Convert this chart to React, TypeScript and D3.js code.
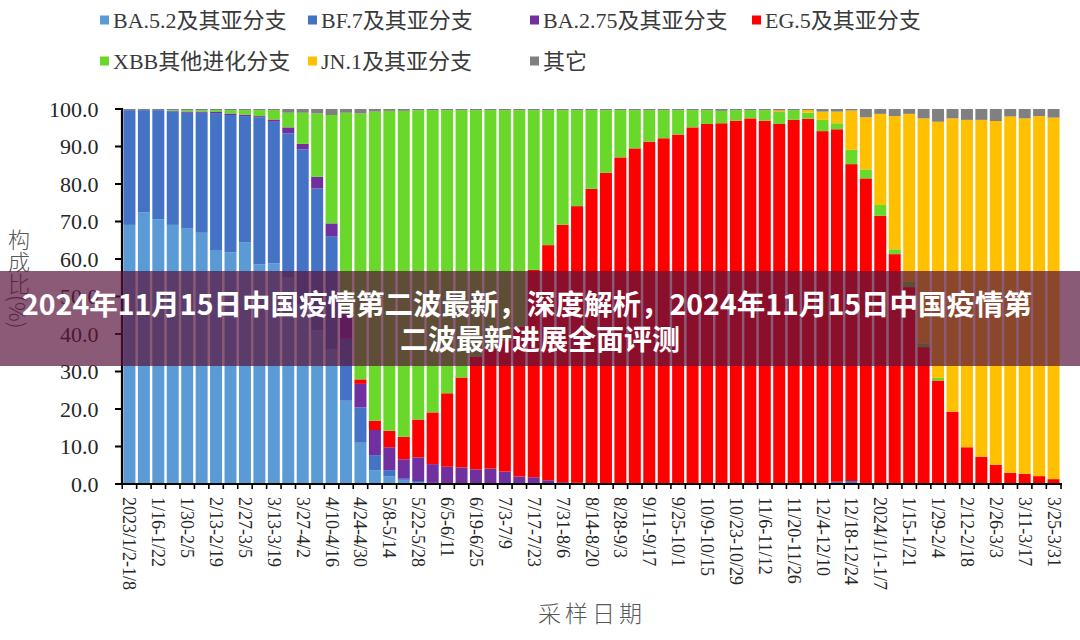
import React from "react";
import * as d3 from "d3";

const categories = [
  "2023/1/2-1/8","1/9-1/15","1/16-1/22","1/23-1/29","1/30-2/5","2/6-2/12","2/13-2/19","2/20-2/26",
  "2/27-3/5","3/6-3/12","3/13-3/19","3/20-3/26","3/27-4/2","4/3-4/9","4/10-4/16","4/17-4/23",
  "4/24-4/30","5/1-5/7","5/8-5/14","5/15-5/21","5/22-5/28","5/29-6/4","6/5-6/11","6/12-6/18",
  "6/19-6/25","6/26-7/2","7/3-7/9","7/10-7/16","7/17-7/23","7/24-7/30","7/31-8/6","8/7-8/13",
  "8/14-8/20","8/21-8/27","8/28-9/3","9/4-9/10","9/11-9/17","9/18-9/24","9/25-10/1","10/2-10/8",
  "10/9-10/15","10/16-10/22","10/23-10/29","10/30-11/5","11/6-11/12","11/13-11/19","11/20-11/26","11/27-12/3",
  "12/4-12/10","12/11-12/17","12/18-12/24","12/25-12/31","2024/1/1-1/7","1/8-1/14","1/15-1/21","1/22-1/28",
  "1/29-2/4","2/5-2/11","2/12-2/18","2/19-2/25","2/26-3/3","3/4-3/10","3/11-3/17","3/18-3/24","3/25-3/31"
];

const ba52 = [69.1,72.4,70.6,69.1,68.1,67.0,62.4,61.8,64.5,58.6,58.8,55.0,48.0,41.0,36.0,22.2,11.0,3.7,2.1,1.1,0.5,0.3,
  0,0,0,0,0,0,0,0,0,0,0,0,0,0,0,0,0,0,0,0,0,0,0,0,0,0,0,0,0,0,0,0,0,0,0,0,0,0,0,0,0,0,0];
const bf7 = [30.6,27.3,29.1,30.3,30.9,32.0,36.5,36.6,33.6,39.2,37.8,38.5,41.2,37.8,30.1,16.5,9.4,4.0,1.6,0.3,0.3,0,
  0,0,0,0,0,0,0,0,0,0,0,0,0,0,0,0,0,0,0,0,0,0,0,0,0,0,0,0.6,0.8,0,0,0,0,0,0,0,0,0,0,0,0,0,0];
const ba275 = [0,0,0,0.1,0.2,0.2,0.3,0.4,0.4,0.3,0.6,1.6,1.5,3.1,3.4,7.2,6.3,6.7,6.1,5.2,6.3,5.0,
  4.6,4.4,3.9,4.1,3.3,2.0,1.8,1.0,0.5,0.3,0.2,0.2,0.1,0.1,0,0,0,0,0,0,0,0,0,0,0,0,0,0,0,0,0,0,0,0,0,0,0,0,0,0,0,0,0];
const eg5 = [0,0,0,0,0,0,0,0,0,0,0,0,0,0,0,0,1.2,2.5,4.4,6.0,10.1,13.8,
  19.6,24.0,30.1,31.9,35.0,40.0,55.3,62.7,68.6,73.8,78.5,82.8,87.0,89.4,91.3,92.2,93.2,95.1,96.0,96.2,96.9,97.5,96.9,96.0,
  97.1,97.4,94.1,94.0,84.5,81.5,71.5,61.3,52.5,36.5,27.6,19.3,9.8,7.3,5.1,3.0,2.7,2.1,1.3];
const xbb = [0,0,0,0.2,0.4,0.4,0.5,0.9,1.2,1.6,2.5,3.9,8.3,16.9,28.9,53.1,70.9,82.4,85.3,86.9,82.5,80.6,
  75.5,71.3,65.7,63.7,61.4,57.7,42.6,36.0,30.6,25.6,21.0,16.7,12.6,10.2,8.4,7.5,6.5,4.6,3.7,3.3,2.8,2.2,2.8,3.2,
  2.6,1.6,3.0,1.6,3.8,2.4,2.9,1.3,1.4,0.9,0.7,0,0,0,0,0,0,0,0];
const jn1 = [0,0,0,0,0,0,0,0,0,0,0,0,0,0,0,0,0,0,0,0,0,0,0,0,0,0,0,0,0,0,0,0,0,0,0,0,0,0,0,0,0,0,0,0,0,0.4,
  0,0.7,2.2,3.1,10.5,13.9,24.3,35.5,44.8,60.1,68.3,78.2,87.3,89.8,91.7,95.0,94.8,96.0,96.4];
const other = [0.3,0.3,0.3,0.3,0.4,0.4,0.3,0.3,0.3,0.3,0.3,1.0,1.0,1.2,1.6,1.0,1.2,0.7,0.5,0.5,0.3,0.3,
  0.3,0.3,0.3,0.3,0.3,0.3,0.3,0.3,0.3,0.3,0.3,0.3,0.3,0.3,0.3,0.3,0.3,0.3,0.3,0.5,0.3,0.3,0.3,0.4,
  0.3,0.3,0.7,0.7,0.4,2.2,1.3,1.9,1.3,2.5,3.4,2.5,2.9,2.9,3.2,2.0,2.5,1.9,2.3];

const seriesNames = ["BA.5.2及其亚分支","BF.7及其亚分支","BA.2.75及其亚分支","EG.5及其亚分支","XBB其他进化分支","JN.1及其亚分支","其它"];
const seriesValues = [ba52, bf7, ba275, eg5, xbb, jn1, other];
const seriesColors = ["#5b9bd5","#4472c4","#7030a0","#ff0000","#6ad72b","#ffc000","#808080"];
const yTicks = [0,10,20,30,40,50,60,70,80,90,100];
const titleLines = ["2024年11月15日中国疫情第二波最新，深度解析，2024年11月15日中国疫情第","二波最新进展全面评测"];

const W = 1080, H = 640;
const left = 122, right = 1061, top = 109, bottom = 484;

export default function App() {
  const rows = categories.map((c, i) => {
    const r: any = { cat: c };
    seriesNames.forEach((s, k) => { r[s] = seriesValues[k][i]; });
    return r;
  });
  const stacked = d3.stack().keys(seriesNames)(rows);
  const x = d3.scaleBand().domain(categories).range([left, right]).paddingInner(0.17).paddingOuter(0.1);
  const y = d3.scaleLinear().domain([0, 100]).range([bottom, top]);
  const step = x.step();
  const gapHalf = (step * 0.17) / 2;

  const serif = "'Liberation Serif','Times New Roman','Noto Sans CJK SC',serif";
  const legendPos = [[100, 20], [308, 20], [530, 20], [752, 20], [100, 61], [308, 61], [530, 61]];

  return (
    <svg width={W} height={H} style={{ position: "absolute", left: 0, top: 0, background: "#fff" }}>
      <rect x={0} y={0} width={W} height={H} fill="#fff" />
      {/* legend */}
      {seriesNames.map((s, k) => (
        <g key={s} transform={`translate(${legendPos[k][0]},${legendPos[k][1]})`}>
          <rect x={0} y={-4.5} width={9} height={9} fill={seriesColors[k]} />
          <text x={13} y={0} dominantBaseline="central" fontFamily={serif} fontSize={22} fill="#3a3a3a">{s}</text>
        </g>
      ))}
      {/* bars */}
      {stacked.map((layer, k) => (
        <g key={layer.key} fill={seriesColors[k]}>
          {layer.map((d: any, i: number) => {
            const h = y(d[0]) - y(d[1]);
            if (h <= 0) return null;
            return <rect key={i} x={x(categories[i])} y={y(d[1])} width={x.bandwidth()} height={h} />;
          })}
        </g>
      ))}
      {/* y axis */}
      <line x1={left} x2={left} y1={top - 1} y2={bottom + 1} stroke="#000" strokeWidth={2.2} />
      {yTicks.map((t) => (
        <g key={t}>
          <line x1={left - 7} x2={left} y1={y(t)} y2={y(t)} stroke="#000" strokeWidth={2} />
          <text x={98.5} y={y(t)} textAnchor="end" dominantBaseline="central" fontFamily={serif} fontSize={22} fill="#262626">{t.toFixed(1)}</text>
        </g>
      ))}
      {/* x axis */}
      <line x1={left - 1} x2={right + 1} y1={bottom} y2={bottom} stroke="#000" strokeWidth={2.2} />
      {categories.map((c, i) => (
        <line key={"t" + i} x1={(x(c) as number) - gapHalf} x2={(x(c) as number) - gapHalf} y1={bottom} y2={bottom + 5} stroke="#000" strokeWidth={1.6} />
      ))}
      <line x1={right} x2={right} y1={bottom} y2={bottom + 5} stroke="#000" strokeWidth={1.6} />
      {categories.map((c, i) => i % 2 === 0 ? (
        <text key={"l" + i} transform={`translate(${(x(c) as number) + x.bandwidth() / 2},${bottom + 13}) rotate(90)`}
          dominantBaseline="central" fontFamily={serif} fontSize={18} fill="#262626">{c}</text>
      ) : null)}
      {/* axis titles */}
      <text x={592} y={612} textAnchor="middle" dominantBaseline="central" fontFamily="'Noto Sans CJK SC',sans-serif" fontWeight={300} fontSize={23} letterSpacing={4} fill="#595959">采样日期</text>
      <text x={19} y={229} fontFamily="'Noto Sans CJK SC',sans-serif" fontWeight={300} fontSize={22} fill="#595959" style={{ writingMode: "vertical-rl" } as any}>构成比(%)</text>
      {/* banner */}
      <rect x={0} y={271} width={W} height={95} fill="rgb(90,20,60)" fillOpacity={0.7} />
      <text x={527} y={302} textAnchor="middle" dominantBaseline="central" fontFamily="'Noto Sans CJK SC',sans-serif" fontWeight={700} fontSize={28.5} fill="#fff">{titleLines[0]}</text>
      <text x={540} y={338} textAnchor="middle" dominantBaseline="central" fontFamily="'Noto Sans CJK SC',sans-serif" fontWeight={700} fontSize={28} fill="#fff">{titleLines[1]}</text>
    </svg>
  );
}
